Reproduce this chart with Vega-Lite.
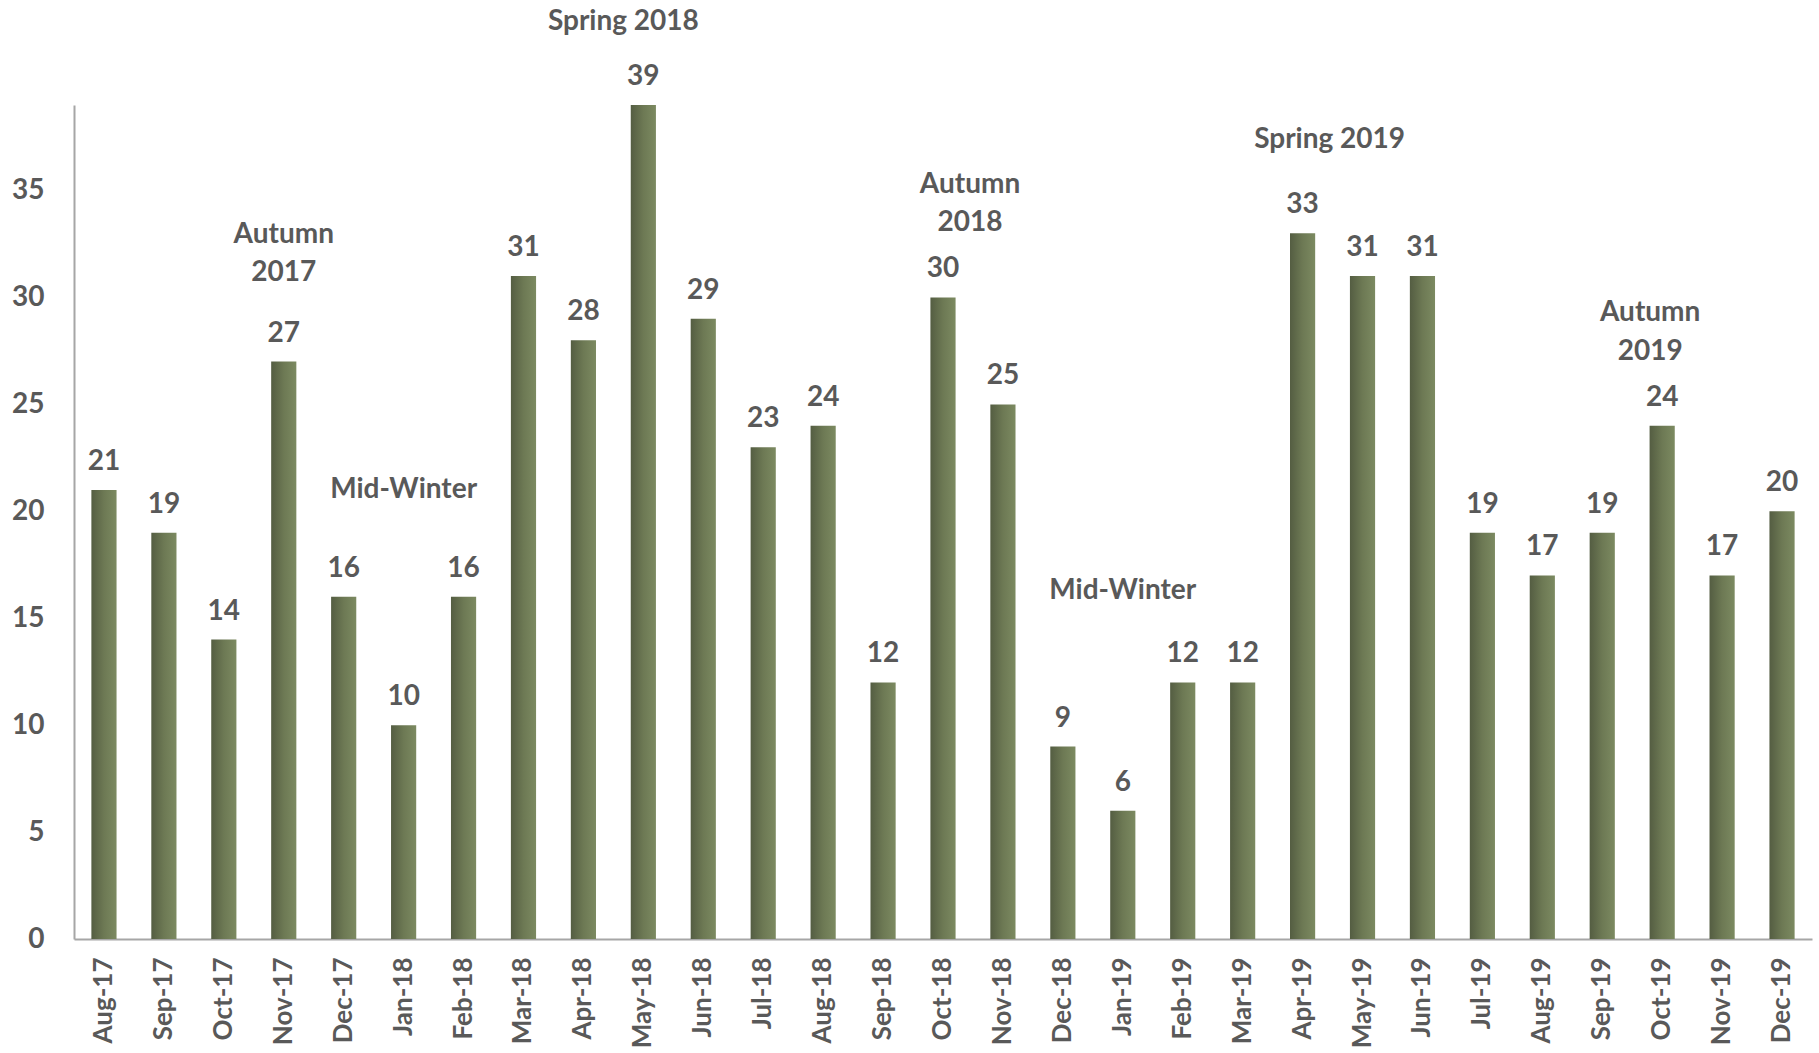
{
  "$schema": "https://vega.github.io/schema/vega-lite/v6.json",
  "autosize": {"type": "none"},
  "width": 1738,
  "height": 834,
  "padding": {"left": 74, "top": 105, "right": 7, "bottom": 114},
  "background": "white",
  "config": {
    "view": {"stroke": null},
    "font": "Lato",
    "text": {"font": "Lato", "fontWeight": "bold", "fontSize": 28, "color": "#595959"}
  },
  "datasets": {
    "bars": [
      {"month": "Aug-17", "value": 21}, {"month": "Sep-17", "value": 19}, {"month": "Oct-17", "value": 14},
      {"month": "Nov-17", "value": 27}, {"month": "Dec-17", "value": 16}, {"month": "Jan-18", "value": 10},
      {"month": "Feb-18", "value": 16}, {"month": "Mar-18", "value": 31}, {"month": "Apr-18", "value": 28},
      {"month": "May-18", "value": 39}, {"month": "Jun-18", "value": 29}, {"month": "Jul-18", "value": 23},
      {"month": "Aug-18", "value": 24}, {"month": "Sep-18", "value": 12}, {"month": "Oct-18", "value": 30},
      {"month": "Nov-18", "value": 25}, {"month": "Dec-18", "value": 9}, {"month": "Jan-19", "value": 6},
      {"month": "Feb-19", "value": 12}, {"month": "Mar-19", "value": 12}, {"month": "Apr-19", "value": 33},
      {"month": "May-19", "value": 31}, {"month": "Jun-19", "value": 31}, {"month": "Jul-19", "value": 19},
      {"month": "Aug-19", "value": 17}, {"month": "Sep-19", "value": 19}, {"month": "Oct-19", "value": 24},
      {"month": "Nov-19", "value": 17}, {"month": "Dec-19", "value": 20}
    ],
    "notesCentre": [
      {"month": "Nov-17", "y": 32.57, "label": "Autumn\n2017"},
      {"month": "Jan-18", "y": 20.6, "label": "Mid-Winter"},
      {"month": "Jan-19", "y": 15.9, "label": "Mid-Winter"}
    ],
    "notesLeft": [
      {"month": "May-18", "y": 42.5, "label": "Spring 2018"}
    ],
    "notesLeftSmall": [
      {"month": "Oct-19", "y": 28.9, "label": "Autumn\n2019"}
    ],
    "notesRight": [
      {"month": "Oct-18", "y": 34.9, "label": "Autumn\n2018"},
      {"month": "Apr-19", "y": 37.0, "label": "Spring 2019"}
    ]
  },
  "encoding": {
    "x": {
      "field": "month", "type": "nominal", "sort": null,
      "scale": {"paddingInner": 0.58, "paddingOuter": 0.29},
      "axis": {
        "title": null, "labelAngle": -90, "labelAlign": "right", "labelBaseline": "middle",
        "labelFont": "Lato", "labelFontWeight": "bold", "labelFontSize": 26, "labelColor": "#595959",
        "labelPadding": 18, "ticks": false, "domainColor": "#a6a6a6", "domainWidth": 2
      }
    }
  },
  "layer": [
    {
      "data": {"name": "bars"},
      "mark": {
        "type": "bar",
        "color": {
          "gradient": "linear", "x1": 0, "x2": 1, "y1": 0, "y2": 0,
          "stops": [
            {"offset": 0, "color": "#545d42"},
            {"offset": 0.5, "color": "#6d7954"},
            {"offset": 1, "color": "#7c8a61"}
          ]
        }
      },
      "encoding": {
        "y": {
          "field": "value", "type": "quantitative",
          "scale": {"domain": [0, 39], "nice": false, "zero": true},
          "axis": {
            "title": null, "values": [0, 5, 10, 15, 20, 25, 30, 35], "grid": false, "ticks": false,
            "labelFont": "Lato", "labelFontWeight": "bold", "labelFontSize": 28, "labelColor": "#595959",
            "labelPadding": 30, "domainColor": "#a6a6a6", "domainWidth": 2
          }
        }
      }
    },
    {
      "data": {"name": "bars"},
      "mark": {"type": "text", "baseline": "alphabetic", "dy": -20},
      "encoding": {
        "y": {"field": "value", "type": "quantitative"},
        "text": {"field": "value", "type": "quantitative"}
      }
    },
    {
      "data": {"name": "notesCentre"},
      "mark": {"type": "text", "baseline": "alphabetic", "lineBreak": "\n", "lineHeight": 38, "clip": false},
      "encoding": {
        "y": {"field": "y", "type": "quantitative"},
        "text": {"field": "label", "type": "nominal"}
      }
    },
    {
      "data": {"name": "notesLeft"},
      "mark": {"type": "text", "baseline": "alphabetic", "lineBreak": "\n", "lineHeight": 38, "dx": -20, "clip": false},
      "encoding": {
        "y": {"field": "y", "type": "quantitative"},
        "text": {"field": "label", "type": "nominal"}
      }
    },
    {
      "data": {"name": "notesLeftSmall"},
      "mark": {"type": "text", "baseline": "alphabetic", "lineBreak": "\n", "lineHeight": 39, "dx": -12, "clip": false},
      "encoding": {
        "y": {"field": "y", "type": "quantitative"},
        "text": {"field": "label", "type": "nominal"}
      }
    },
    {
      "data": {"name": "notesRight"},
      "mark": {"type": "text", "baseline": "alphabetic", "lineBreak": "\n", "lineHeight": 38, "dx": 27, "clip": false},
      "encoding": {
        "y": {"field": "y", "type": "quantitative"},
        "text": {"field": "label", "type": "nominal"}
      }
    }
  ]
}
